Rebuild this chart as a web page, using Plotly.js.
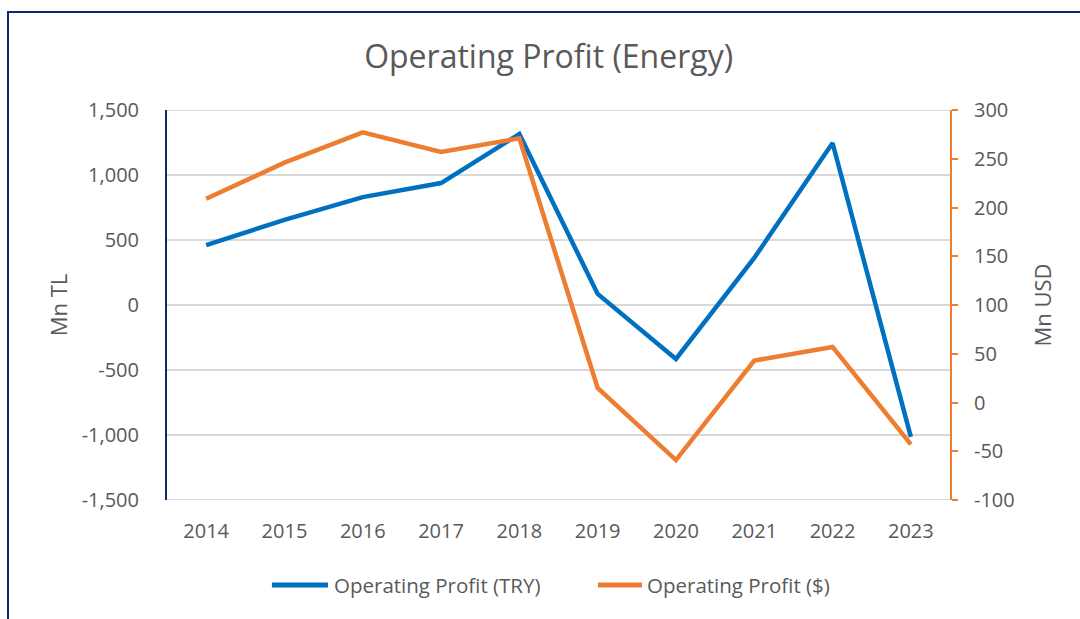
<!DOCTYPE html>
<html>
<head>
<meta charset="utf-8">
<script src="https://cdn.plot.ly/plotly-3.0.1.min.js"></script>
<style>
html,body{margin:0;padding:0;background:#fff;}
#wrap{position:relative;width:1080px;height:619px;overflow:hidden;}
#chart{position:absolute;left:0;top:0;width:1080px;height:619px;}
#frame{position:absolute;left:7px;top:11px;width:1200px;height:700px;border-left:2px solid #0B2A6B;border-top:2px solid #0B2A6B;pointer-events:none;}
</style>
</head>
<body>
<div id="wrap"><div id="chart"></div><div id="frame"></div></div>
<script>
const years = ['2014','2015','2016','2017','2018','2019','2020','2021','2022','2023'];
const profitTRY = [460, 655, 830, 938, 1315, 85, -415, 362, 1246, -1015];
const profitUSD = [209, 246, 277, 257, 271, 15, -59, 43, 57, -43];
const leftTicks = [-1500, -1000, -500, 0, 500, 1000, 1500];
const rightTicks = [-100, -50, 0, 50, 100, 150, 200, 250, 300];
const seriesNames = ['Operating Profit (TRY)', 'Operating Profit ($)'];
const seriesColors = ['#0070C0', '#ED7D31'];

const FONT = 'Open Sans, Lato, sans-serif';
const GREY = '#595959';

const traces = [
  {x: years, y: profitTRY, type: 'scatter', mode: 'lines', name: seriesNames[0],
   line: {color: seriesColors[0], width: 4.5}, yaxis: 'y'},
  {x: years, y: profitUSD, type: 'scatter', mode: 'lines', name: seriesNames[1],
   line: {color: seriesColors[1], width: 4.5}, yaxis: 'y2'}
];

// custom legend (line samples + labels) placed under the plot
const legendY = -0.218;
const legendItems = [
  {x0: 0.134, x1: 0.2056, tx: 0.2107},
  {x0: 0.5504, x1: 0.6066, tx: 0.6105}
];
const shapes = legendItems.map((it, i) => ({
  type: 'line', xref: 'paper', yref: 'paper', x0: it.x0, x1: it.x1, y0: legendY, y1: legendY,
  line: {color: seriesColors[i], width: 5}
}));
// edge gridlines (top and bottom of the left axis range)
[leftTicks[0], leftTicks[leftTicks.length - 1]].forEach(v => shapes.push({
  type: 'line', xref: 'paper', yref: 'y', x0: 0, x1: 1, y0: v, y1: v, layer: 'below',
  line: {color: '#D9D9D9', width: 2}
}));
const annotations = legendItems.map((it, i) => ({
  xref: 'paper', yref: 'paper', x: it.tx, y: legendY, xanchor: 'left', yanchor: 'middle',
  text: seriesNames[i], showarrow: false, font: {family: FONT, size: 20.5, color: GREY}
}));

const layout = {
  width: 1080, height: 619,
  margin: {l: 167, r: 130, t: 110, b: 119},
  paper_bgcolor: '#fff', plot_bgcolor: '#fff',
  font: {family: FONT, color: GREY, size: 20},
  title: {text: 'Operating Profit (Energy)', x: 0.508, xanchor: 'center', y: 0.908, yanchor: 'middle',
          font: {family: FONT, size: 32, color: GREY}},
  showlegend: false,
  shapes: shapes,
  annotations: annotations,
  xaxis: {type: 'category', range: [-0.5, 9.5], showgrid: false, showline: false, zeroline: false, ticks: '',
          tickfont: {size: 20, color: GREY}, ticklabelstandoff: 17},
  yaxis: {range: [-1500, 1500], tickvals: leftTicks, ticktext: leftTicks.map(v => v.toLocaleString('en-US')),
          showgrid: true, gridcolor: '#D9D9D9', gridwidth: 2, zeroline: false,
          showline: true, linecolor: '#0B2A6B', linewidth: 2, ticks: '',
          tickfont: {size: 20, color: GREY}, ticklabelstandoff: 22,
          title: {text: 'Mn TL', font: {size: 22, color: GREY}, standoff: 8}},
  yaxis2: {range: [-100, 300], tickvals: rightTicks, ticktext: rightTicks.map(v => String(v)),
           overlaying: 'y', side: 'right',
           showgrid: false, zeroline: false, showline: true, linecolor: '#ED7D31', linewidth: 2,
           ticks: 'outside', ticklen: 6, tickwidth: 2, tickcolor: '#ED7D31',
           tickfont: {size: 20, color: GREY}, ticklabelstandoff: 12,
           title: {text: 'Mn USD', font: {size: 22, color: GREY}, standoff: 22}}
};

Plotly.newPlot('chart', traces, layout, {displayModeBar: false, staticPlot: true});
</script>
</body>
</html>
